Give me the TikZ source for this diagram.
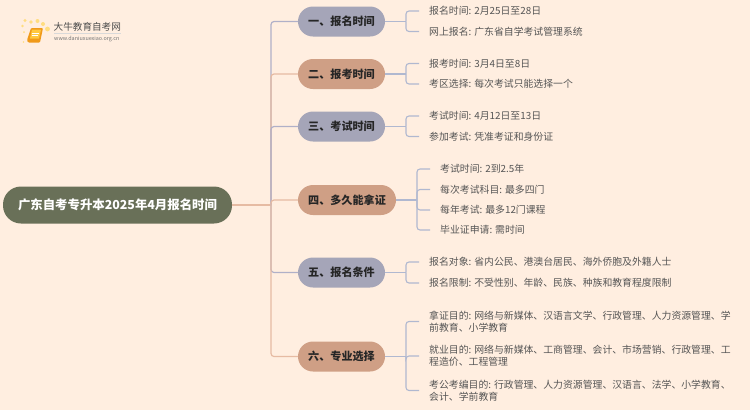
\documentclass[tikz,border=0pt]{standalone}
\usepackage{fontspec}
\setmainfont{Noto Sans CJK SC}
\definecolor{bgc}{HTML}{FFEEE0}
\definecolor{rootc}{HTML}{697058}
\definecolor{grayb}{HTML}{A5A5B8}
\definecolor{peachb}{HTML}{CF9F85}
\definecolor{linegray}{HTML}{B0B0C8}
\definecolor{linepeach}{HTML}{E6BBA3}
\definecolor{leafline}{HTML}{B0B8D0}
\definecolor{leaftext}{HTML}{555555}
\definecolor{bookc}{HTML}{F09A1A}
\definecolor{bookin}{HTML}{FFC840}
\definecolor{dotcol}{HTML}{FFDD80}
\tikzset{
  x=1pt,y=-1pt,
  rootbox/.style={rounded corners=18pt,fill=rootc,text=white,minimum height=37pt,minimum width=229pt,inner sep=0pt,font=\fontsize{12.4}{15}\selectfont\bfseries},
  branchg/.style={rounded corners=15pt,fill=grayb,text=black!85,minimum height=30pt,minimum width=87pt,inner sep=0pt,font=\fontsize{11.1}{14}\selectfont\bfseries},
  branchp/.style={branchg,fill=peachb},
  leaf/.style={anchor=west,inner xsep=10pt,inner ysep=0pt,text=leaftext,align=left,font=\fontsize{9.86}{12.4}\selectfont},
  gconn/.style={draw=linegray,line width=1.2pt,rounded corners=3pt},
  pconn/.style={draw=linepeach,line width=1.2pt,rounded corners=3pt},
  lconn/.style={draw=leafline,line width=1.1pt,rounded corners=3pt},
  dotc/.style={fill=dotcol,draw=none}
}
\begin{document}
\begin{tikzpicture}
\useasboundingbox[fill=bgc] (0,0) rectangle (750,410);
% logo
\foreach \a/\b/\r in {24/32/1.0,22.5/26/1.3,25/20.5/1.6,31/22/1.9,37.5/21/2.0,43/24/2.0,47.5/29/2.4,23.5/42/0.8}
  \fill[dotc] (\a,\b) circle (\r);
\fill[bookc,rounded corners=1pt] (31,28) -- (43,28) -- (40,42.5) -- (28,42.5) -- (27,40) -- cycle;
\fill[bookin] (32,29.5) -- (41,29.5) -- (39,38.5) -- (30,38.5) -- cycle;
\draw[white,line width=0.5pt] (32,33) -- (39,33) (31.5,35) -- (38,35);
\node[inner sep=0pt,anchor=west,text=black!70,font=\fontsize{9.6}{11}\selectfont] (logoa) at (53.5,27) {大牛教育自考网};
\node[inner sep=0pt,anchor=west,text=black!55,font=\fontsize{5.4}{7}\selectfont] (logob) at (54,39) {www.daniuxuexiao.org.cn};
\draw[black!15,line width=.4pt] (54,33.5) -- (121,33.5);

\node[rootbox] (root) at (117.5,205) {广东自考专升本2025年4月报名时间};
\coordinate (j) at (271,205);

\node[branchg] (b1) at (341.5,21.5) {一、报名时间};
\node[branchp] (b2) at (341.5,74) {二、报考时间};
\node[branchg] (b3) at (341.5,126.5) {三、考试时间};
\node[branchp,minimum width=98pt] (b4) at (347,200) {四、多久能拿证};
\node[branchg] (b5) at (341.5,272.5) {五、报名条件};
\node[branchp] (b6) at (341.5,356.5) {六、专业选择};

\draw[pconn] (root.east) -- (j);
\draw[gconn] (j) |- (b1.west);
\draw[pconn] (j) |- (b2.west);
\draw[gconn] (j) |- (b3.west);
\draw[pconn] (j) |- (b4.west);
\draw[gconn] (j) |- (b5.west);
\draw[pconn] (j) |- (b6.west);

\node[leaf] (l11) at (419,11) {报名时间: 2月25日至28日};
\node[leaf] (l12) at (419,31.5) {网上报名: 广东省自学考试管理系统};
\node[leaf] (l21) at (419,63.5) {报考时间: 3月4日至8日};
\node[leaf] (l22) at (419,84) {考区选择: 每次考试只能选择一个};
\node[leaf] (l31) at (419,116) {考试时间: 4月12日至13日};
\node[leaf] (l32) at (419,136.5) {参加考试: 凭准考证和身份证};
\node[leaf] (l41) at (430,169) {考试时间: 2到2.5年};
\node[leaf] (l42) at (430,189.5) {每次考试科目: 最多四门};
\node[leaf] (l43) at (430,210) {每年考试: 最多12门课程};
\node[leaf] (l44) at (430,230) {毕业证申请: 需时间};
\node[leaf] (l51) at (419,262) {报名对象: 省内公民、港澳台居民、海外侨胞及外籍人士};
\node[leaf] (l52) at (419,283) {报名限制: 不受性别、年龄、民族、种族和教育程度限制};
\node[leaf] (l61) at (419,321.5) {拿证目的: 网络与新媒体、汉语言文学、行政管理、人力资源管理、学\\前教育、小学教育};
\node[leaf] (l62) at (419,356) {就业目的: 网络与新媒体、工商管理、会计、市场营销、行政管理、工\\程造价、工程管理};
\node[leaf] (l63) at (419,390.5) {考公考编目的: 行政管理、人力资源管理、汉语言、法学、小学教育、\\会计、学前教育};

\coordinate (m1) at (406,21.5);
\coordinate (m2) at (406,74);
\coordinate (m3) at (406,126.5);
\coordinate (m4) at (417,200);
\coordinate (m5) at (406,272.5);
\coordinate (m6) at (406,356.5);
\foreach \b/\m/\ls in {b1/m1/{l11,l12},b2/m2/{l21,l22},b3/m3/{l31,l32},b4/m4/{l41,l42,l43,l44},b5/m5/{l51,l52},b6/m6/{l61,l62,l63}}{
  \draw[lconn] (\b.east) -- (\m);
  \foreach \l in \ls { \draw[lconn] (\m) |- (\l.west); }
}
\end{tikzpicture}
\end{document}
